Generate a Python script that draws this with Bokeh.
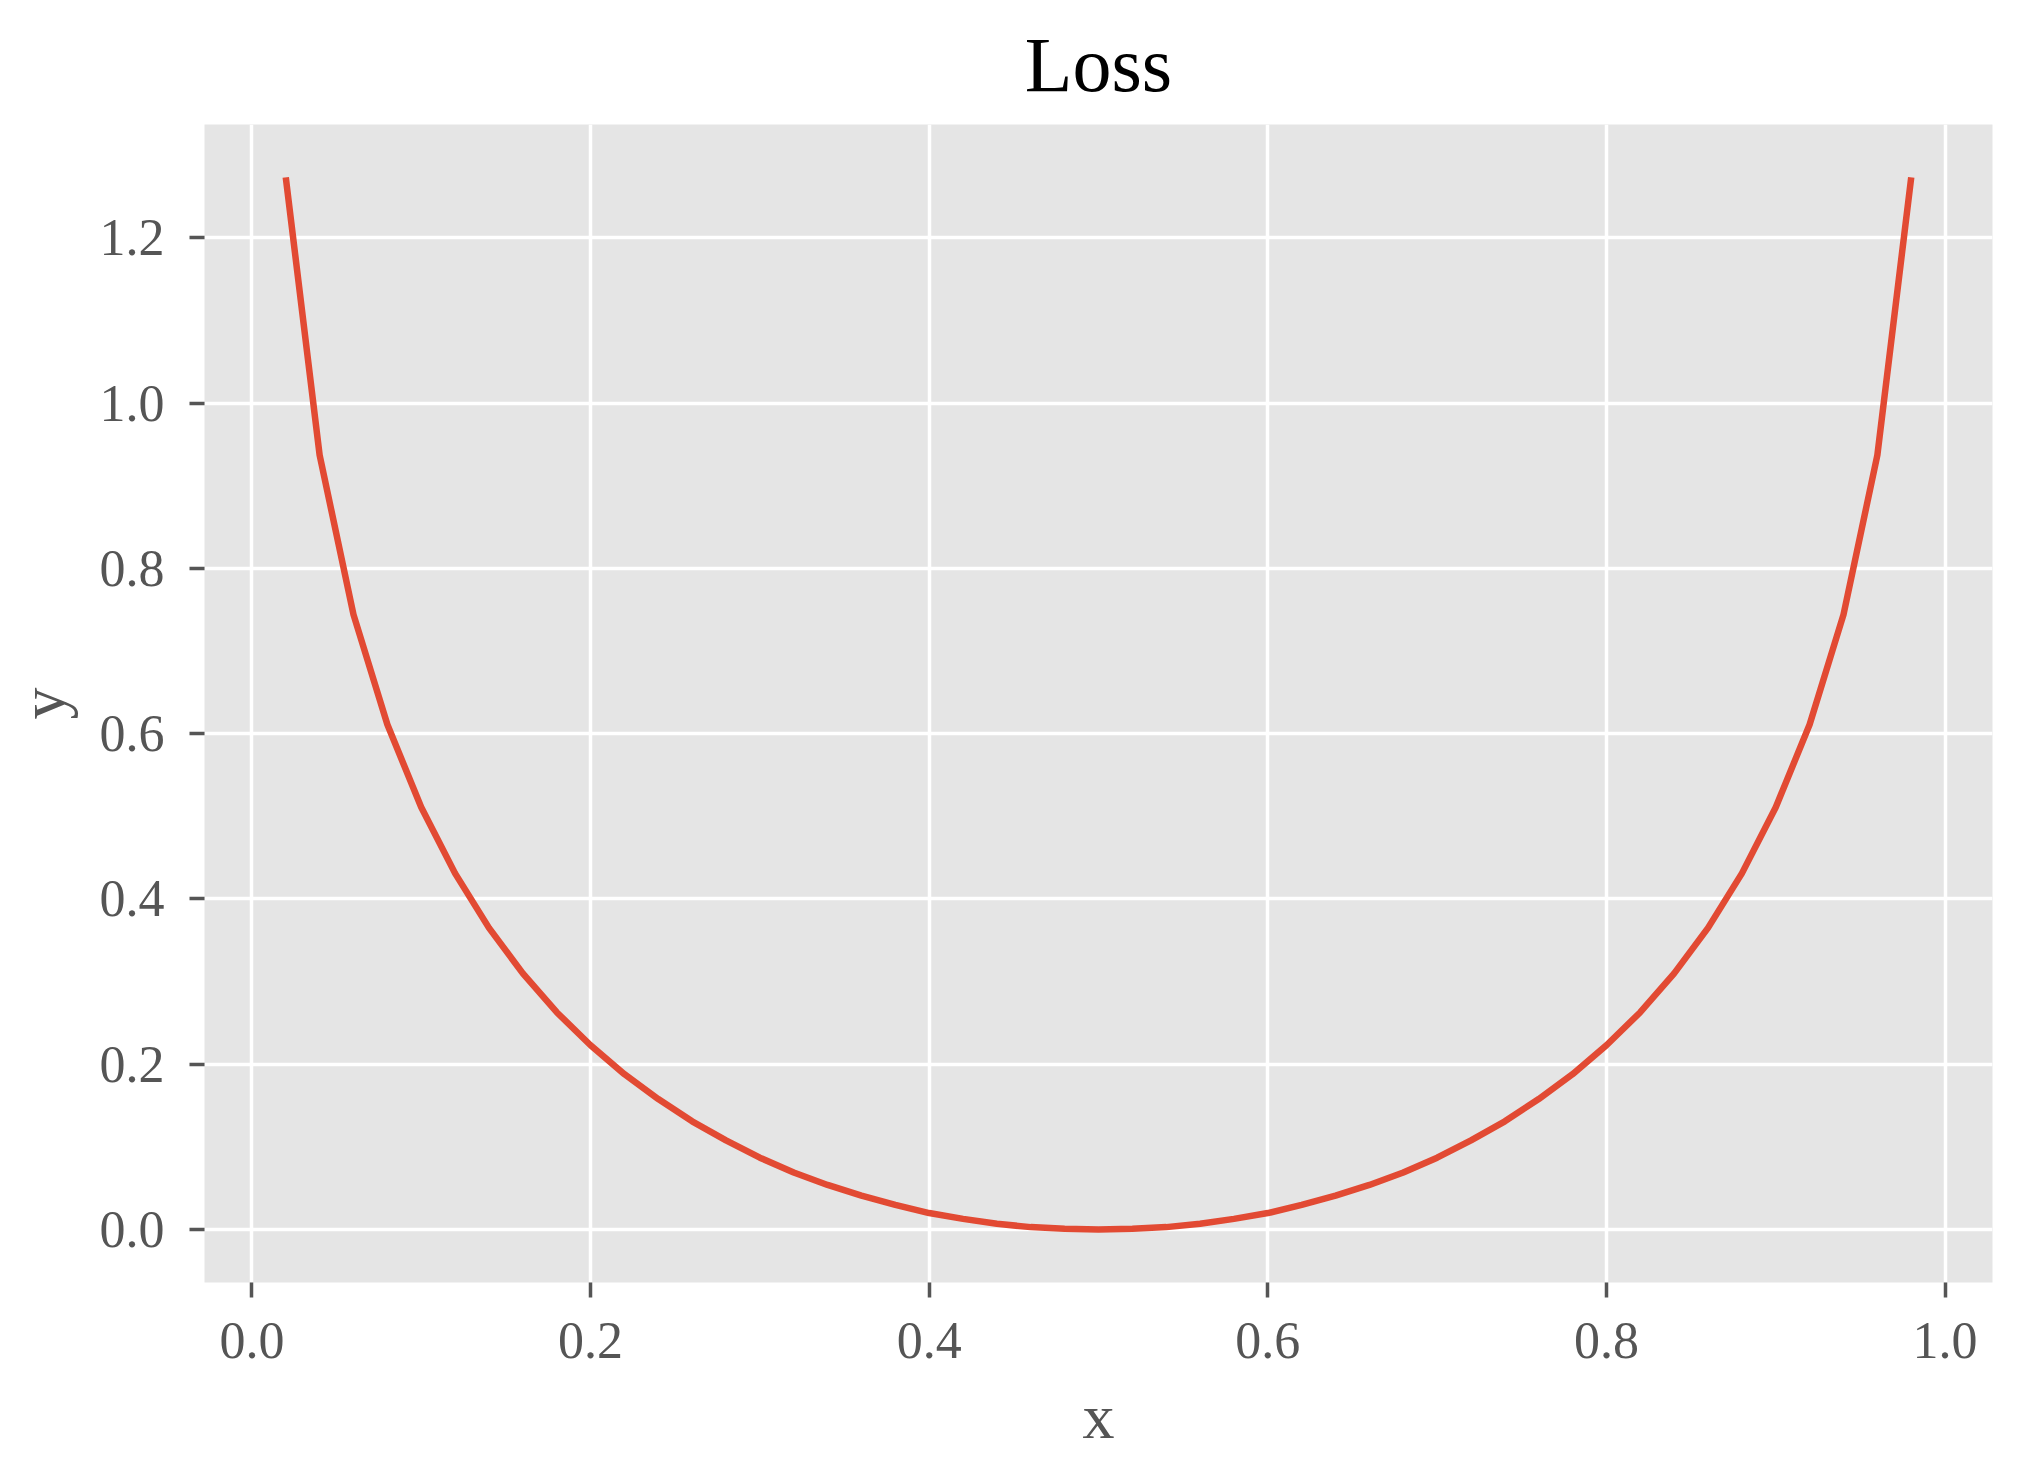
from bokeh.plotting import figure
from bokeh.models import Range1d, FixedTicker, NumeralTickFormatter
from bokeh.embed import file_html
from bokeh.resources import INLINE

# ---- data ----
x_vals = [0.02, 0.04, 0.06, 0.08, 0.10, 0.12, 0.14, 0.16, 0.18, 0.20,
          0.22, 0.24, 0.26, 0.28, 0.30, 0.32, 0.34, 0.36, 0.38, 0.40,
          0.42, 0.44, 0.46, 0.48, 0.50, 0.52, 0.54, 0.56, 0.58, 0.60,
          0.62, 0.64, 0.66, 0.68, 0.70, 0.72, 0.74, 0.76, 0.78, 0.80,
          0.82, 0.84, 0.86, 0.88, 0.90, 0.92, 0.94, 0.96, 0.98]
loss_vals = [1.273, 0.937, 0.744, 0.611, 0.511, 0.431, 0.365, 0.310, 0.263, 0.223,
             0.188, 0.158, 0.131, 0.108, 0.087, 0.069, 0.054, 0.041, 0.030, 0.020,
             0.013, 0.007, 0.003, 0.001, 0.000, 0.001, 0.003, 0.007, 0.013, 0.020,
             0.030, 0.041, 0.054, 0.069, 0.087, 0.108, 0.131, 0.158, 0.188, 0.223,
             0.263, 0.310, 0.365, 0.431, 0.511, 0.611, 0.744, 0.937, 1.273]
x_ticks = [0.0, 0.2, 0.4, 0.6, 0.8, 1.0]
y_ticks = [0.0, 0.2, 0.4, 0.6, 0.8, 1.0, 1.2]
title_text = "Loss"
x_label = "x"
y_label = "y"

FONT = "Liberation Serif"
GRAY = "#555555"

p = figure(width=2024, height=1460, output_backend="svg", toolbar_location=None,
           x_range=Range1d(-0.028, 1.028), y_range=Range1d(-0.064, 1.337),
           min_border_left=204, min_border_right=32, min_border_top=124,
           min_border_bottom=178, title=title_text)

p.background_fill_color = "#E5E5E5"
p.border_fill_color = "white"
p.outline_line_color = None

p.title.align = "center"
p.title.text_font = FONT
p.title.text_font_size = "78px"
p.title.text_font_style = "normal"
p.title.text_color = "black"
p.title.text_line_height = 1.0
p.title.standoff = 34

p.line(x_vals, loss_vals, line_color="#E24A33", line_width=6.5)

p.xaxis.ticker = FixedTicker(ticks=x_ticks)
p.yaxis.ticker = FixedTicker(ticks=y_ticks)
p.xaxis.formatter = NumeralTickFormatter(format="0.0")
p.yaxis.formatter = NumeralTickFormatter(format="0.0")

for ax in (p.xaxis, p.yaxis):
    ax.axis_line_color = None
    ax.major_tick_line_color = GRAY
    ax.major_tick_line_width = 3.5
    ax.major_tick_out = 15
    ax.major_tick_in = 0
    ax.minor_tick_line_color = None
    ax.major_label_text_font = FONT
    ax.major_label_text_font_size = "52px"
    ax.major_label_text_color = GRAY
    ax.axis_label_text_font = FONT
    ax.axis_label_text_font_size = "64px"
    ax.axis_label_text_font_style = "normal"
    ax.axis_label_text_color = GRAY
    ax.major_label_standoff = 25
    ax.axis_label_standoff = 20

p.yaxis.axis_label_standoff = 19

p.xaxis.axis_label = x_label
p.yaxis.axis_label = y_label

p.xgrid.grid_line_color = "white"
p.ygrid.grid_line_color = "white"
p.xgrid.grid_line_width = 3.5
p.ygrid.grid_line_width = 3.5

open("out.html", "w").write(file_html(p, INLINE))
